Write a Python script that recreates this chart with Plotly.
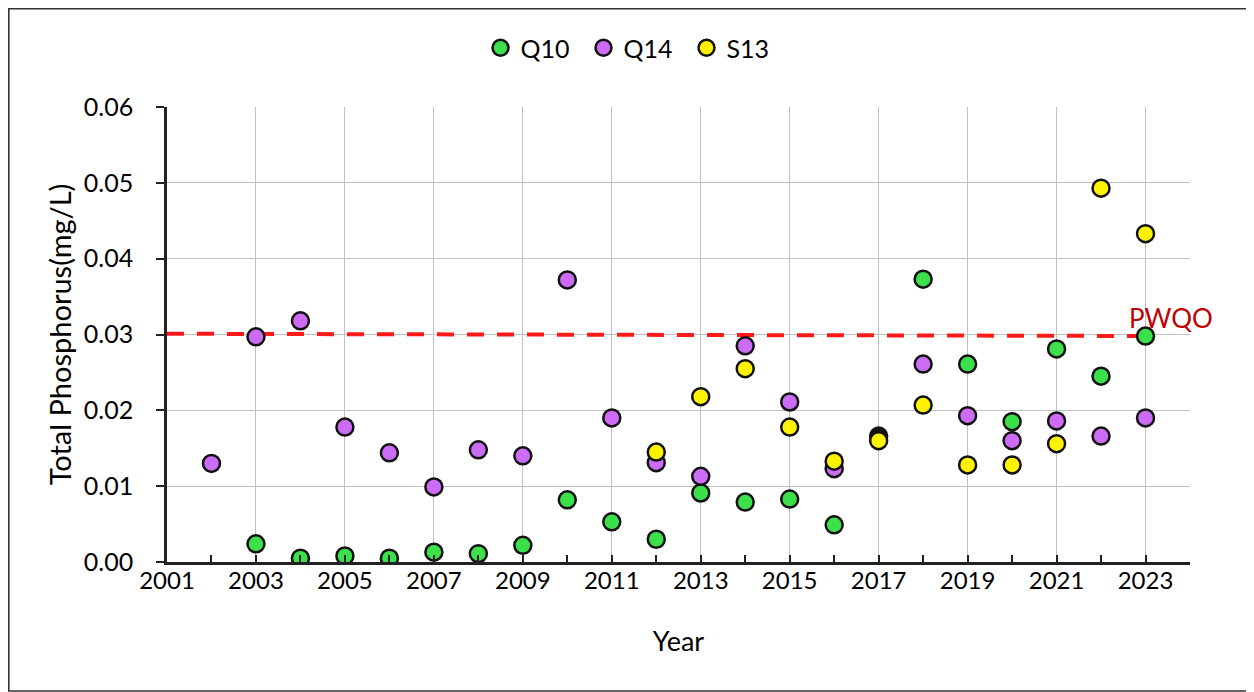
import plotly.graph_objects as go

years_q10 = [2003, 2004, 2005, 2006, 2007, 2008, 2009, 2010, 2011, 2012, 2013,
             2014, 2015, 2016, 2017, 2018, 2019, 2020, 2021, 2022, 2023]
q10 = [0.0024, 0.0005, 0.0008, 0.0005, 0.0013, 0.0011, 0.0022, 0.0082, 0.0053, 0.0030, 0.0091,
       0.0079, 0.0083, 0.0049, 0.0166, 0.0373, 0.0261, 0.0185, 0.0281, 0.0245, 0.0298]

years_q14 = [2002, 2003, 2004, 2005, 2006, 2007, 2008, 2009, 2010, 2011, 2012, 2013,
             2014, 2015, 2016, 2018, 2019, 2020, 2021, 2022, 2023]
q14 = [0.0130, 0.0297, 0.0318, 0.0178, 0.0144, 0.0099, 0.0148, 0.0140, 0.0372, 0.0190, 0.0131, 0.0113,
       0.0285, 0.0211, 0.0123, 0.0261, 0.0193, 0.0160, 0.0186, 0.0166, 0.0190]

years_s13 = [2012, 2013, 2014, 2015, 2016, 2017, 2018, 2019, 2020, 2021, 2022, 2023]
s13 = [0.0145, 0.0218, 0.0255, 0.0178, 0.0133, 0.0160, 0.0207, 0.0128, 0.0128, 0.0156, 0.0493, 0.0433]

pwqo_years = [2001, 2023.2]
pwqo = [0.0301, 0.0298]

x_ticks = list(range(2001, 2024, 2))
y_ticks = [0.00, 0.01, 0.02, 0.03, 0.04, 0.05, 0.06]

GREEN = "#3BE04B"
PURPLE = "#CC6CF5"
YELLOW = "#FFF200"
FONT = "Lato"

q10_colors = ["#111111" if y == 2017 else GREEN for y in years_q10]

fig = go.Figure()
fig.add_trace(go.Scatter(
    x=pwqo_years, y=pwqo, mode="lines", showlegend=False, hoverinfo="skip",
    line=dict(color="#FF1A1A", width=4, dash="17px,13px")))
fig.add_trace(go.Scatter(
    x=years_q10, y=q10, mode="markers", name="Q10",
    marker=dict(size=17, color=q10_colors, line=dict(color="#111111", width=2.5))))
fig.add_trace(go.Scatter(
    x=years_q14, y=q14, mode="markers", name="Q14",
    marker=dict(size=17, color=PURPLE, line=dict(color="#111111", width=2.5))))
fig.add_trace(go.Scatter(
    x=years_s13, y=s13, mode="markers", name="S13",
    marker=dict(size=17, color=YELLOW, line=dict(color="#111111", width=2.5))))

fig.add_annotation(x=2023.2, y=0.0298, xref="x", yref="y", text="PWQO",
                   showarrow=False, xanchor="left", yanchor="bottom", xshift=-27, yshift=0,
                   font=dict(family=FONT, size=26, color="#C00000"))

W, H = 1246, 684
L, R, T, B = 159, 64, 99, 130
pw, ph = W - L - R, H - T - B
# outer frame
fig.add_shape(type="rect", xref="paper", yref="paper",
              x0=(0.8 - L) / pw, x1=(W - 6 - L) / pw,
              y0=-(H - 1 - (T + ph)) / ph, y1=1 + (T - 0.8) / ph,
              line=dict(color="#333333", width=1.6), fillcolor="rgba(0,0,0,0)", layer="below")

fig.update_layout(
    width=W, height=H,
    margin=dict(l=L, r=R, t=T, b=B, autoexpand=False),
    paper_bgcolor="white", plot_bgcolor="white",
    font=dict(family=FONT, size=25, color="black"),
    legend=dict(orientation="h", x=(635 - 8 - L) / pw, y=1 + (99 - 40) / ph,
                xanchor="center", yanchor="middle",
                font=dict(family=FONT, size=25), itemwidth=30, tracegroupgap=0,
                entrywidth=58, entrywidthmode="pixels",
                bgcolor="rgba(0,0,0,0)"),
    showlegend=True,
)
fig.update_xaxes(
    range=[2001, 2024], tickmode="array", tickvals=x_ticks, ticktext=[str(v) for v in x_ticks],
    showgrid=True, gridcolor="#C0C0C0", gridwidth=1,
    showline=True, linecolor="#222222", linewidth=2.5,
    ticks="inside", ticklen=7, tickwidth=2, tickcolor="#222222",
    minor=dict(dtick=1, tick0=2001, ticks="inside", ticklen=7, tickwidth=2, tickcolor="#222222", showgrid=False),
    zeroline=False, automargin=False, ticklabelstandoff=-5,
    title=dict(text="Year", font=dict(family=FONT, size=27), standoff=40),
    tickfont=dict(family=FONT, size=24),
)
fig.update_yaxes(
    range=[0, 0.06], tickmode="array", tickvals=y_ticks, ticktext=[f"{v:.2f}" for v in y_ticks],
    showgrid=True, gridcolor="#C0C0C0", gridwidth=1,
    showline=True, linecolor="#222222", linewidth=2.5,
    ticks="outside", ticklen=8, tickwidth=2, tickcolor="#222222",
    zeroline=False, automargin=False, ticklabelstandoff=18,
    title=dict(text="Total Phosphorus(mg/L)", font=dict(family=FONT, size=29), standoff=4),
    tickfont=dict(family=FONT, size=25),
)

fig.write_html("out.html")
